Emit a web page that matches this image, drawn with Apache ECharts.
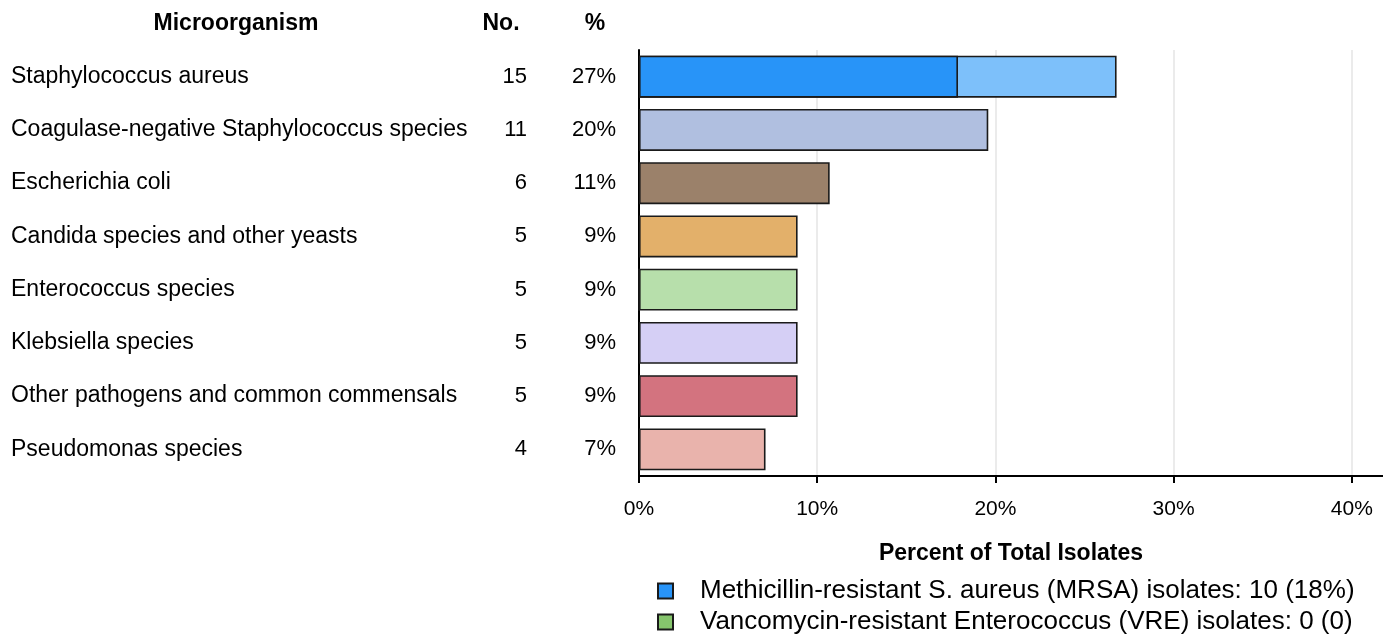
<!DOCTYPE html>
<html>
<head>
<meta charset="utf-8">
<script src="https://cdn.jsdelivr.net/npm/echarts@6/dist/echarts.min.js"></script>
<style>
html,body{margin:0;padding:0;background:#fff;}
#chart{width:1383px;height:635px;}
</style>
</head>
<body>
<div id="chart"></div>
<script>
// ---- data ----
var organisms = [
  'Staphylococcus aureus',
  'Coagulase-negative Staphylococcus species',
  'Escherichia coli',
  'Candida species and other yeasts',
  'Enterococcus species',
  'Klebsiella species',
  'Other pathogens and common commensals',
  'Pseudomonas species'
];
var counts = [15, 11, 6, 5, 5, 5, 5, 4];
var pctLabels = ['27%', '20%', '11%', '9%', '9%', '9%', '9%', '7%'];
var totalPct = [26.8, 19.6, 10.7, 8.9, 8.9, 8.9, 8.9, 7.1];
var mrsaPct = [17.9, null, null, null, null, null, null, null];
var vrePct = [null, null, null, null, 0, null, null, null];
var xTicks = [0, 10, 20, 30, 40];
var barColors = ['#7dc0fa', '#b0bfe0', '#9b816a', '#e3b06a', '#b7dfab', '#d5cff5', '#d3737f', '#e9b3ac'];
var legendNames = ['Methicillin-resistant S. aureus (MRSA) isolates: 10 (18%)',
                   'Vancomycin-resistant Enterococcus (VRE) isolates: 0 (0)'];

var FONT = '"Liberation Sans", Arial, sans-serif';
var chart = echarts.init(document.getElementById('chart'));

var border = {borderColor: '#1a1a1a', borderWidth: 1.6};

chart.setOption({
  animation: false,
  textStyle: {fontFamily: FONT, color: '#000'},
  grid: {left: 639, right: 0, top: 50, height: 426, containLabel: false},
  graphic: [
    {type: 'text', x: 236, y: 24, style: {text: 'Microorganism', font: 'bold 23px ' + FONT, fill: '#000', textAlign: 'center', textVerticalAlign: 'middle'}},
    {type: 'text', x: 501, y: 24, style: {text: 'No.', font: 'bold 23px ' + FONT, fill: '#000', textAlign: 'center', textVerticalAlign: 'middle'}},
    {type: 'text', x: 595, y: 24, style: {text: '%', font: 'bold 23px ' + FONT, fill: '#000', textAlign: 'center', textVerticalAlign: 'middle'}}
  ],
  legend: {
    data: legendNames,
    orient: 'vertical',
    left: 657,
    top: 578,
    padding: 0,
    itemWidth: 15,
    itemHeight: 15,
    itemGap: 5,
    icon: 'rect',
    textStyle: {fontSize: 26, color: '#000', fontFamily: FONT, padding: [0, 0, 0, 22]}
  },
  xAxis: {
    type: 'value',
    min: 0,
    max: 41.75,
    interval: 10,
    name: 'Percent of Total Isolates',
    nameLocation: 'middle',
    nameGap: 66,
    nameTextStyle: {fontSize: 23, fontWeight: 'bold', color: '#000', fontFamily: FONT},
    axisLine: {show: true, lineStyle: {color: '#000', width: 2}},
    axisTick: {show: true, length: 7, lineStyle: {color: '#000', width: 2}, customValues: xTicks},
    axisLabel: {fontSize: 21, color: '#000', margin: 23, customValues: xTicks,
      formatter: function (v) { return v + '%'; }},
    splitLine: {show: true, lineStyle: {color: '#e4e4e4', width: 1.5}}
  },
  yAxis: [
    {
      type: 'category', data: organisms, inverse: true, position: 'left',
      axisLine: {show: true, lineStyle: {color: '#000', width: 2}},
      axisTick: {show: false},
      axisLabel: {fontSize: 22, color: '#000', margin: 23,
        formatter: function (v, i) { return pctLabels[i]; }}
    },
    {
      type: 'category', data: organisms, inverse: true, position: 'left', offset: 112,
      axisLine: {show: false}, axisTick: {show: false},
      axisLabel: {fontSize: 22, color: '#000', margin: 0,
        formatter: function (v, i) { return String(counts[i]); }}
    },
    {
      type: 'category', data: organisms, inverse: true, position: 'left', offset: 628,
      axisLine: {show: false}, axisTick: {show: false},
      axisLabel: {fontSize: 23, color: '#000', margin: 0, align: 'left'}
    }
  ],
  series: [
    {
      name: 'Total',
      type: 'bar',
      yAxisIndex: 0,
      barWidth: 42,
      barGap: '-100%',
      data: totalPct.map(function (v, i) {
        return {value: v, itemStyle: {color: barColors[i]}};
      }),
      itemStyle: border
    },
    {
      name: legendNames[0],
      type: 'bar',
      yAxisIndex: 0,
      barWidth: 42,
      barGap: '-100%',
      data: mrsaPct,
      itemStyle: {color: '#2894f8', borderColor: '#1a1a1a', borderWidth: 1.6}
    },
    {
      name: legendNames[1],
      type: 'bar',
      yAxisIndex: 0,
      barWidth: 42,
      barGap: '-100%',
      data: vrePct,
      itemStyle: {color: '#86c56d', borderColor: '#1a1a1a', borderWidth: 1.6}
    }
  ]
});
</script>
</body>
</html>
